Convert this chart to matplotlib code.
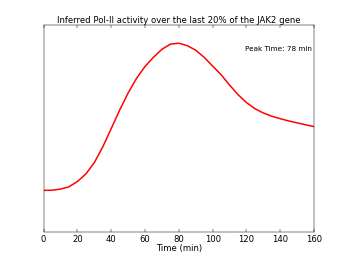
import matplotlib
matplotlib.use("Agg")
import matplotlib.pyplot as plt

# time points (min) and inferred Pol-II activity (arbitrary units, peak = 1)
time_min = [0, 5, 10, 15, 20, 25, 30, 35, 40, 45, 50, 55, 60, 65, 70, 75, 80,
            85, 90, 95, 100, 105, 110, 115, 120, 125, 130, 135, 140, 145, 150, 155, 160]
activity = [0.221, 0.222, 0.228, 0.240, 0.268, 0.308, 0.368, 0.451, 0.548, 0.646,
            0.736, 0.814, 0.876, 0.925, 0.967, 0.994, 0.999, 0.986, 0.962, 0.924,
            0.878, 0.832, 0.778, 0.727, 0.685, 0.653, 0.630, 0.613, 0.600, 0.588,
            0.578, 0.568, 0.558]
x_ticks = [0, 20, 40, 60, 80, 100, 120, 140, 160]
peak_time = 78

fig = plt.figure(figsize=(8, 6), dpi=349 / 8)
ax = fig.add_axes([0.125, 0.11, 0.775, 0.79])
ax.plot(time_min, activity, color="red", lw=2.5)
ax.set_xlim(0, 160)
ax.set_ylim(0, 1.093)
ax.set_xticks(x_ticks)
ax.set_yticks([])
ax.tick_params(axis="x", direction="in", top=True, length=5, labelsize=14, pad=4)
ax.set_xlabel("Time (min)", fontsize=14, labelpad=0)
ax.set_title("Inferred Pol-II activity over the last 20% of the JAK2 gene", fontsize=14)
ax.text(0.99, 0.89, f"Peak Time: {peak_time} min", transform=ax.transAxes,
        ha="right", va="center", fontsize=12)

fig.savefig("out.png", dpi=349 / 8, facecolor="white")
